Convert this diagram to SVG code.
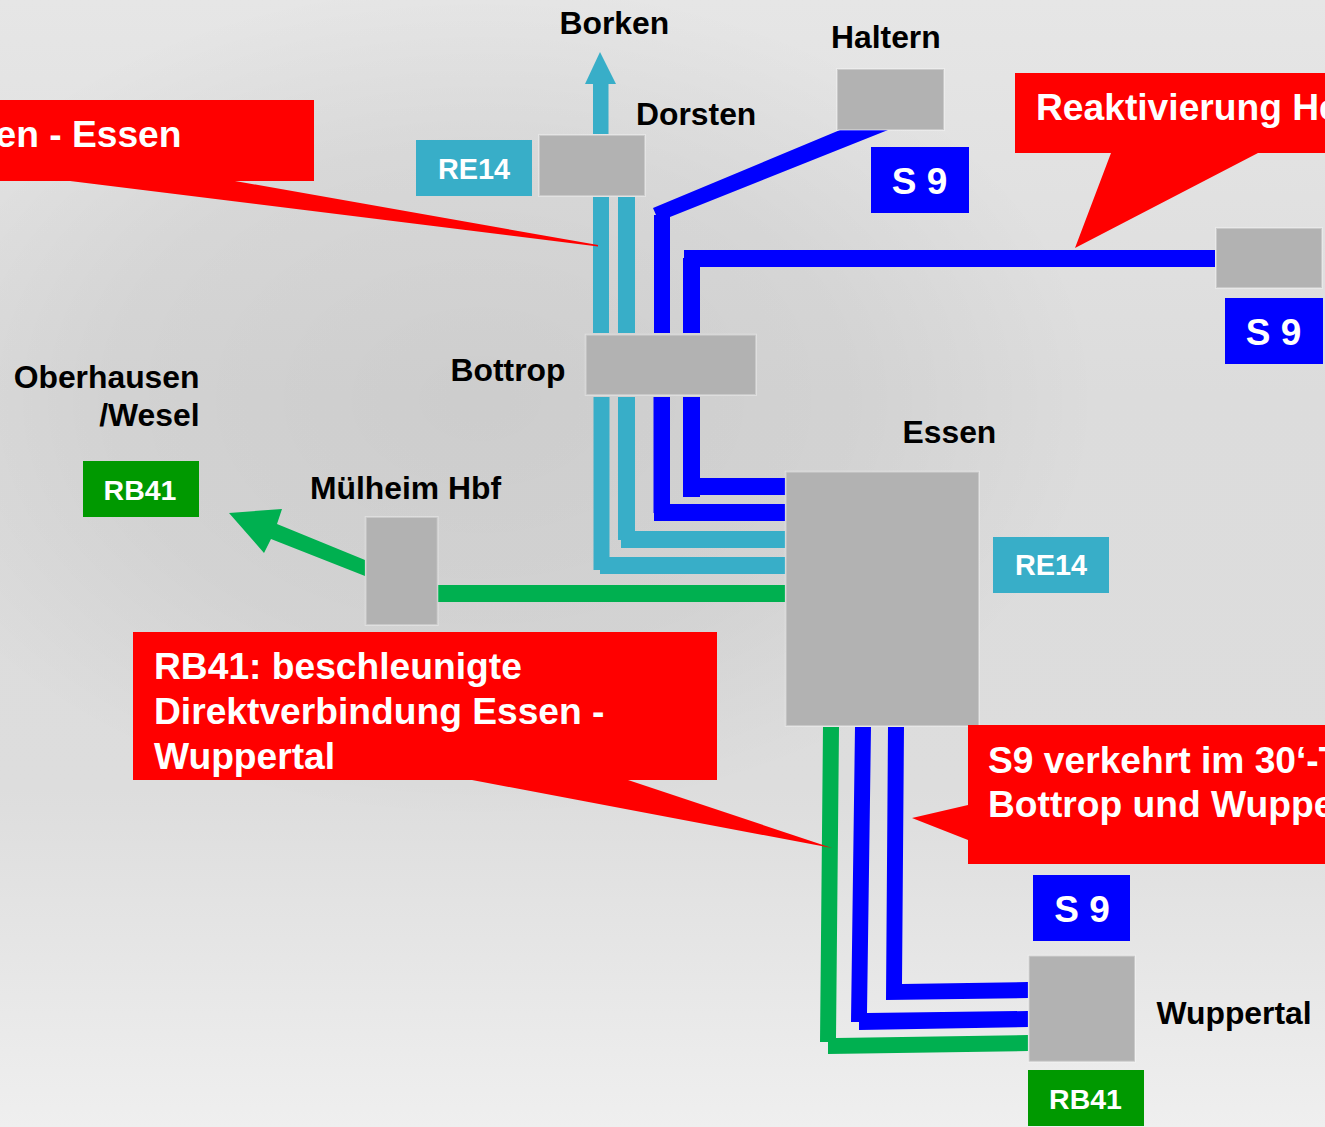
<svg xmlns="http://www.w3.org/2000/svg" width="1325" height="1127" viewBox="0 0 1325 1127">
<style>
text{font-family:"Liberation Sans",Arial,sans-serif;font-weight:bold}
.stn{fill:#b2b2b2;stroke:#fff;stroke-opacity:.3;stroke-width:2}
.lbl{font-size:31.850px;fill:#000}
.call{font-size:37.200px;fill:#fff}
.red{fill:#f00}
.teal{fill:#38aec8}
.blue{fill:#00f}
.green{fill:#00b050}
.tag{fill:#fff;text-anchor:middle}
</style>
<defs>
<linearGradient id="bg" x1="0" y1="0" x2="0" y2="1">
<stop offset="0" stop-color="#e6e6e6"/>
<stop offset="0.35" stop-color="#dcdcdc"/>
<stop offset="0.7" stop-color="#dddddd"/>
<stop offset="1" stop-color="#efefef"/>
</linearGradient>
<radialGradient id="shade" gradientUnits="userSpaceOnUse" cx="0" cy="0" r="1" gradientTransform="translate(480 400) scale(620 420)">
<stop offset="0" stop-color="#000" stop-opacity=".07"/>
<stop offset="0.6" stop-color="#000" stop-opacity=".045"/>
<stop offset="1" stop-color="#000" stop-opacity="0"/>
</radialGradient>
</defs>
<rect width="1325" height="1127" fill="url(#bg)"/>
<rect width="1325" height="1127" fill="url(#shade)"/>
<g id="connectors">
<path class="teal" d="M593 134V84H585L600 52L616 84H608.500V134Z"/>
<path class="teal" d="M593 197H609V333H593ZM618 197H635V333H618Z"/>
<path class="teal" d="M593.500 397H609.500V557H785V574H600V570H593.500Z"/>
<path class="teal" d="M618 397H635V531H785V548H621V540H618Z"/>
<path class="blue" d="M653 208L840 130H888L670 217V333H654V215H656Z"/>
<path class="blue" d="M683 333V258H684V250H1215V267H700V333Z"/>
<path class="blue" d="M653.500 397H670V504H785V521H654V513H653.500Z"/>
<path class="blue" d="M683 397H700V478H785V495H700V497H683Z"/>
<path class="green" d="M438 585H785V602H438Z"/>
<path class="green" d="M229 513L282 509L277 524L365 560V576L271 539L264 553Z"/>
<path class="green" d="M823 727H839L836 1038L1028 1035V1051L828 1054V1042H820Z"/>
<path class="blue" d="M855 727H871L867 1013L1028 1011V1027L859 1030V1022H851Z"/>
<path class="blue" d="M888 727H904L902 984L1028 982V998L886 1000Z"/>
</g>
<g id="borken"><text class="lbl" x="559.500" y="34">Borken</text></g>
<g id="haltern"><rect class="stn" x="837" y="69" width="107" height="61"/><text class="lbl" x="831" y="48">Haltern</text></g>
<g id="dorsten"><rect class="stn" x="539" y="135" width="106" height="61"/><text class="lbl" x="636" y="125">Dorsten</text></g>
<g id="bottrop"><rect class="stn" x="585.700" y="334.700" width="170.300" height="60.300"/><text class="lbl" x="450.500" y="381">Bottrop</text></g>
<g id="oberhausen"><text class="lbl" x="199.500" y="388" text-anchor="end">Oberhausen</text><text class="lbl" x="199.500" y="426" text-anchor="end">/Wesel</text></g>
<g id="muelheim"><rect class="stn" x="365.700" y="517" width="72" height="108"/><text class="lbl" x="310" y="499">Mülheim Hbf</text></g>
<g id="essen"><rect class="stn" x="785.700" y="471.700" width="193.300" height="254.300"/><text class="lbl" x="902.500" y="443">Essen</text></g>
<g id="wuppertal"><rect class="stn" x="1028.700" y="955.700" width="106.300" height="106"/><text class="lbl" x="1156.500" y="1024">Wuppertal</text></g>
<g id="herten"><rect class="stn" x="1216" y="228" width="106" height="60"/></g>
<g id="tag-re14-left"><rect class="teal" x="416" y="140" width="116" height="56"/><text class="tag" x="474" y="179" font-size="28.800">RE14</text></g>
<g id="tag-re14-right"><rect class="teal" x="993" y="537" width="116" height="56"/><text class="tag" x="1051" y="575" font-size="28.800">RE14</text></g>
<g id="tag-s9-top"><rect class="blue" x="871" y="147" width="98" height="66"/><text class="tag" x="919.500" y="194" font-size="37">S 9</text></g>
<g id="tag-s9-right"><rect class="blue" x="1225" y="298" width="98" height="66"/><text class="tag" x="1273.500" y="345" font-size="37">S 9</text></g>
<g id="tag-s9-bottom"><rect class="blue" x="1033" y="875" width="97" height="66"/><text class="tag" x="1082" y="922" font-size="37">S 9</text></g>
<g id="tag-rb41-left"><rect x="83" y="461" width="116" height="56" fill="#009900"/><text class="tag" x="140" y="500" font-size="28.500">RB41</text></g>
<g id="tag-rb41-bottom"><rect x="1028" y="1070" width="116" height="56" fill="#009900"/><text class="tag" x="1085.500" y="1109" font-size="28.500">RB41</text></g>
<g id="callout-essen"><path class="red" d="M0 100H314V181H235L598 245L598 246.500L70 181H0Z"/><text class="call" x="181.500" y="147" text-anchor="end">en - Essen</text></g>
<g id="callout-reaktivierung"><path class="red" d="M1015 73H1325V153H1258L1075 248L1111 153H1015Z"/><text class="call" x="1036" y="120">Reaktivierung He</text></g>
<g id="callout-rb41"><path class="red" d="M133 632H717V780H628L832 848L472 780H133Z"/><text class="call" x="154" y="679">RB41: beschleunigte</text><text class="call" x="154" y="724">Direktverbindung Essen -</text><text class="call" x="154" y="769">Wuppertal</text></g>
<g id="callout-s9"><path class="red" d="M968 725H1325V864H968V840L912 818L968 805Z"/><text class="call" x="988" y="773">S9 verkehrt im 30‘-T</text><text class="call" x="988" y="817">Bottrop und Wuppe</text></g>
</svg>
